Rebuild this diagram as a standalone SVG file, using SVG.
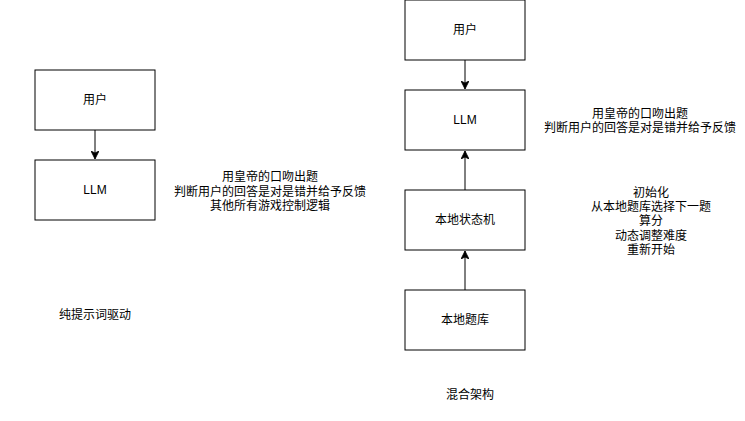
<svg xmlns="http://www.w3.org/2000/svg" width="745" height="421" viewBox="0 0 745 421">
<style>
.box{fill:#fff;stroke:#000;stroke-width:1}
.t{font-family:"Liberation Sans","Noto Sans CJK SC",sans-serif;font-size:12px;fill:#000;text-anchor:middle;dominant-baseline:central}
.edge{stroke:#000;stroke-width:1;fill:none}
</style>
<defs>
<marker id="arr" viewBox="0 0 10 10" refX="10" refY="5" markerWidth="8" markerHeight="8" markerUnits="userSpaceOnUse" orient="auto">
<path d="M0,0 L10,5 L0,10 L2.5,5 Z" fill="#000" stroke="#000"/>
</marker>
</defs>
<rect width="745" height="421" fill="#fff"/>
<g id="connectors">
<line class="edge" x1="95" y1="130" x2="95" y2="159" marker-end="url(#arr)"/>
<line class="edge" x1="465" y1="60" x2="465" y2="89" marker-end="url(#arr)"/>
<line class="edge" x1="465" y1="190" x2="465" y2="151" marker-end="url(#arr)"/>
<line class="edge" x1="465" y1="290" x2="465" y2="251" marker-end="url(#arr)"/>
</g>
<g id="left-user"><rect class="box" x="35" y="70" width="120" height="60"/><text class="t" x="95" y="100">用户</text></g>
<g id="left-llm"><rect class="box" x="35" y="160" width="120" height="60"/><text class="t" x="95" y="190">LLM</text></g>
<g id="left-note"><text class="t" x="270" y="177">用皇帝的口吻出题</text><text class="t" x="270" y="191.5">判断用户的回答是对是错并给予反馈</text><text class="t" x="270" y="206">其他所有游戏控制逻辑</text></g>
<g id="left-caption"><text class="t" x="95" y="315">纯提示词驱动</text></g>
<g id="right-user"><rect class="box" x="405" y="0" width="120" height="60"/><text class="t" x="465" y="30">用户</text></g>
<g id="right-llm"><rect class="box" x="405" y="90" width="120" height="60"/><text class="t" x="465" y="120">LLM</text></g>
<g id="right-llm-note"><text class="t" x="640" y="113.5">用皇帝的口吻出题</text><text class="t" x="640" y="128">判断用户的回答是对是错并给予反馈</text></g>
<g id="state-machine"><rect class="box" x="405" y="190" width="120" height="60"/><text class="t" x="465" y="220">本地状态机</text></g>
<g id="sm-note"><text class="t" x="651" y="193">初始化</text><text class="t" x="651" y="207">从本地题库选择下一题</text><text class="t" x="651" y="221">算分</text><text class="t" x="651" y="235.5">动态调整难度</text><text class="t" x="651" y="249.5">重新开始</text></g>
<g id="question-bank"><rect class="box" x="405" y="290" width="120" height="60"/><text class="t" x="465" y="320">本地题库</text></g>
<g id="right-caption"><text class="t" x="470" y="395">混合架构</text></g>
</svg>
